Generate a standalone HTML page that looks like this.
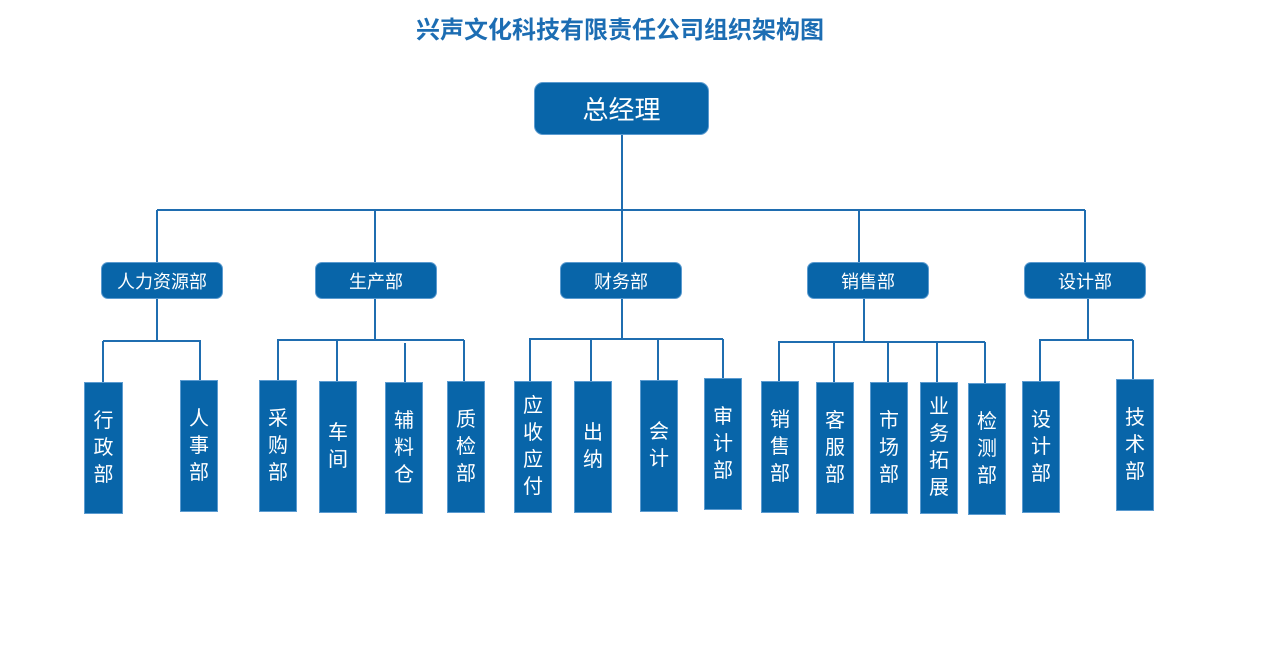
<!DOCTYPE html>
<html><head><meta charset="utf-8"><style>
body{margin:0;width:1287px;height:661px;background:#fff;position:relative;overflow:hidden;font-family:"Liberation Sans","Noto Sans CJK SC",sans-serif}
.t{position:absolute;left:0;width:1240px;top:15px;text-align:center;font-size:24px;font-weight:bold;color:#1c6db3;line-height:32px;letter-spacing:0}
.b{position:absolute;background:#0865a9;color:#fff;display:flex;align-items:center;justify-content:center;box-sizing:border-box;border:1px solid #5b9bd0}
.r{border-radius:7px;font-size:18px}
.v{font-size:20px;line-height:27px;text-align:center;width:22px;word-break:break-all}
svg{position:absolute;left:0;top:0}
</style></head><body>
<div class="t">兴声文化科技有限责任公司组织架构图</div>
<svg width="1287" height="661"><g stroke="#1f6db0" stroke-width="2" fill="none">
<path d="M622 135V210M157 210H1085M157 210V262M375 210V262M622 210V262M859 210V262M1085 210V262"/>
<path d="M157 299V341M103 341H201M103 341V382M200 341V380"/>
<path d="M375 299V340M277 340H464M278 340V380M337 340V381M405 343V382M464 340V381"/>
<path d="M622 299V339M529 339H723M530 339V381M591 339V381M658 339V380M723 339V378"/>
<path d="M864 299V342M778 342H985M779 342V381M834 342V382M888 342V382M937 342V382M985 342V383"/>
<path d="M1088 299V340M1039 340H1133M1040 340V381M1133 340V379"/>
</g></svg>
<div class="b r" style="left:534px;top:82px;width:175px;height:53px;font-size:26px;border-radius:9px">总经理</div>
<div class="b r" style="left:101px;top:262px;width:122px;height:37px">人力资源部</div>
<div class="b r" style="left:315px;top:262px;width:122px;height:37px">生产部</div>
<div class="b r" style="left:560px;top:262px;width:122px;height:37px">财务部</div>
<div class="b r" style="left:807px;top:262px;width:122px;height:37px">销售部</div>
<div class="b r" style="left:1024px;top:262px;width:122px;height:37px">设计部</div>
<div class="b" style="left:84px;top:382px;width:39px;height:132px"><span class="v">行政部</span></div>
<div class="b" style="left:180px;top:380px;width:38px;height:132px"><span class="v">人事部</span></div>
<div class="b" style="left:259px;top:380px;width:38px;height:132px"><span class="v">采购部</span></div>
<div class="b" style="left:319px;top:381px;width:38px;height:132px"><span class="v">车间</span></div>
<div class="b" style="left:385px;top:382px;width:38px;height:132px"><span class="v">辅料仓</span></div>
<div class="b" style="left:447px;top:381px;width:38px;height:132px"><span class="v">质检部</span></div>
<div class="b" style="left:514px;top:381px;width:38px;height:132px"><span class="v">应收应付</span></div>
<div class="b" style="left:574px;top:381px;width:38px;height:132px"><span class="v">出纳</span></div>
<div class="b" style="left:640px;top:380px;width:38px;height:132px"><span class="v">会计</span></div>
<div class="b" style="left:704px;top:378px;width:38px;height:132px"><span class="v">审计部</span></div>
<div class="b" style="left:761px;top:381px;width:38px;height:132px"><span class="v">销售部</span></div>
<div class="b" style="left:816px;top:382px;width:38px;height:132px"><span class="v">客服部</span></div>
<div class="b" style="left:870px;top:382px;width:38px;height:132px"><span class="v">市场部</span></div>
<div class="b" style="left:920px;top:382px;width:38px;height:132px"><span class="v">业务拓展</span></div>
<div class="b" style="left:968px;top:383px;width:38px;height:132px"><span class="v">检测部</span></div>
<div class="b" style="left:1022px;top:381px;width:38px;height:132px"><span class="v">设计部</span></div>
<div class="b" style="left:1116px;top:379px;width:38px;height:132px"><span class="v">技术部</span></div>
</body></html>
